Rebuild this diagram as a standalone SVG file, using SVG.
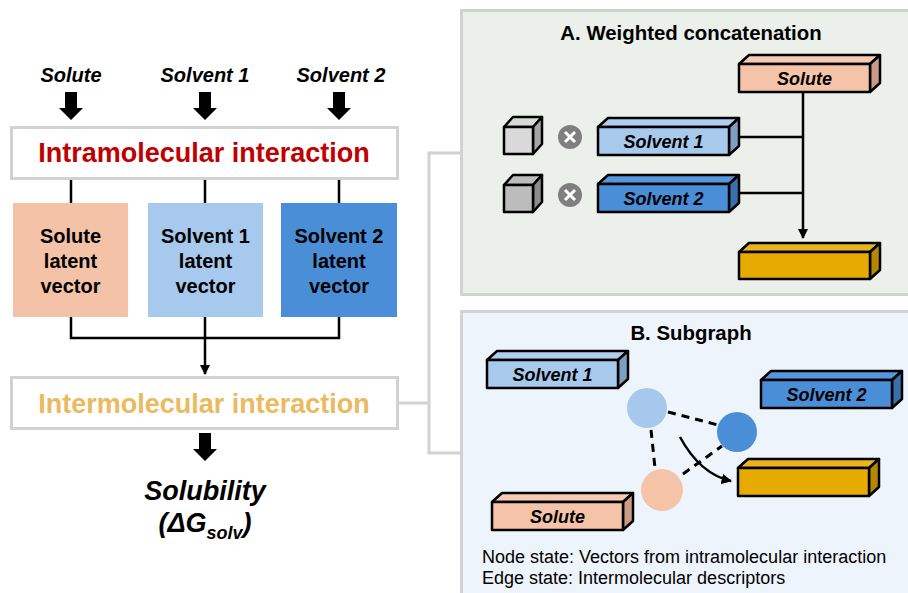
<svg xmlns="http://www.w3.org/2000/svg" width="908" height="593" viewBox="0 0 908 593">
<defs>
<style>
text{font-family:"Liberation Sans",Arial,sans-serif;fill:#000}
.b{font-weight:bold}
.bi{font-weight:bold;font-style:italic}
.ol{stroke:#000;stroke-width:2.5;stroke-linejoin:round}
.gray{fill:none;stroke:#d2d2d2;stroke-width:3}
.ln{fill:none;stroke:#000;stroke-width:2.5}
.dash{fill:none;stroke:#000;stroke-width:3;stroke-dasharray:8 6}
.pf{fill:#f5c4a8}.pt{fill:#f7cbb3}.ps{fill:#c99a86}
.lf{fill:#a7c9ec}.lt{fill:#b0cfef}.ls{fill:#7d9fc2}
.df{fill:#4a8ed8}.dt{fill:#5596dc}.ds{fill:#3870ad}
.gf{fill:#e5ab00}.gt{fill:#eab51c}.gs{fill:#b48700}
.c1f{fill:#d9d9d9}.c1s{fill:#a6a6a6}
.c2f{fill:#bcbcbc}.c2s{fill:#8c8c8c}
</style>
<marker id="ah" viewBox="0 0 10 10" refX="9" refY="5" markerWidth="4.2" markerHeight="4.2" orient="auto" markerUnits="strokeWidth">
<path d="M0,0 L10,5 L0,10 z" fill="#000"/>
</marker>
<polygon id="fat" points="-6,0 6,0 6,16 12,16 0,28 -12,16 -6,16" fill="#000"/>
</defs>
<rect width="908" height="593" fill="#fff"/>

<!-- Panels (backgrounds) -->
<g id="panelA">
<rect x="461.5" y="10.5" width="460" height="284" fill="#ebf1ea" stroke="#d2d2d2" stroke-width="3"/>
<text class="b" x="691" y="40" font-size="20.4" text-anchor="middle">A. Weighted concatenation</text>
</g>
<g id="panelB">
<rect x="461.5" y="311.5" width="460" height="300" fill="#eef4fb" stroke="#d2d2d2" stroke-width="3"/>
<text class="b" x="691" y="340" font-size="20.4" text-anchor="middle">B. Subgraph</text>
</g>

<g id="connectors">
<path class="ln" d="M71,179V203M205,179V203M339,179V203"/>
<path class="ln" d="M71,317V338H339V317M205,317V338"/>
<path class="ln" d="M205,338V374" stroke-width="2" marker-end="url(#ah)"/>
<path class="gray" d="M398,403H429M460,153H429V453H460"/>
<path class="ln" d="M738,137H803M738,193H803M803,92V238" marker-end="url(#ah)"/>
<path class="dash" d="M668,412L718,425M651,430L655,468M683,474L722,446"/>
<path class="ln" d="M680,437Q700,474 731,481" marker-end="url(#ah)"/>
</g>

<!-- Left flow -->
<g id="inputs">
<text class="bi" x="71" y="82" font-size="20" text-anchor="middle">Solute</text>
<text class="bi" x="205" y="82" font-size="20" text-anchor="middle">Solvent 1</text>
<text class="bi" x="341" y="82" font-size="20" text-anchor="middle">Solvent 2</text>
<use href="#fat" x="71" y="92"/>
<use href="#fat" x="205" y="92"/>
<use href="#fat" x="339" y="92"/>
</g>

<g id="intra">
<rect x="11.5" y="127.5" width="386" height="51" fill="#fff" stroke="#d2d2d2" stroke-width="3"/>
<text class="b" x="204" y="162" font-size="27" text-anchor="middle" style="fill:#c00000">Intramolecular interaction</text>
</g>

<g id="latent-solute">
<rect x="13" y="203" width="115" height="114" fill="#f4c2a6"/>
<text class="b" font-size="20" text-anchor="middle"><tspan x="70.5" y="243">Solute</tspan><tspan x="70.5" y="268">latent</tspan><tspan x="70.5" y="293">vector</tspan></text>
</g>
<g id="latent-solvent1">
<rect x="148" y="203" width="115" height="114" fill="#a6c9ed"/>
<text class="b" font-size="20" text-anchor="middle"><tspan x="205.5" y="243">Solvent 1</tspan><tspan x="205.5" y="268">latent</tspan><tspan x="205.5" y="293">vector</tspan></text>
</g>
<g id="latent-solvent2">
<rect x="281" y="203" width="116" height="114" fill="#4a8ed8"/>
<text class="b" font-size="20" text-anchor="middle"><tspan x="339" y="243">Solvent 2</tspan><tspan x="339" y="268">latent</tspan><tspan x="339" y="293">vector</tspan></text>
</g>

<g id="inter">
<rect x="11.5" y="377.5" width="386" height="51" fill="#fff" stroke="#d2d2d2" stroke-width="3"/>
<text class="b" x="204" y="413" font-size="27" text-anchor="middle" style="fill:#ebb95e">Intermolecular interaction</text>
</g>

<g id="output">
<use href="#fat" x="205" y="433"/>
<text class="bi" x="205" y="500" font-size="27" text-anchor="middle">Solubility</text>
<text class="bi" x="205" y="532" font-size="27" text-anchor="middle">(ΔG<tspan font-size="18" dy="7">solv</tspan><tspan dy="-7">)</tspan></text>
</g>

<!-- Panel A nodes -->
<g id="A-solute" transform="translate(739,64)">
<polygon class="pt ol" points="0,0 10,-9 141,-9 131,0"/>
<polygon class="ps ol" points="131,0 141,-9 141,19 131,28"/>
<rect class="pf ol" width="131" height="28"/>
<text class="bi" x="65.5" y="21" font-size="18" text-anchor="middle">Solute</text>
</g>
<g id="A-weight1" transform="translate(504,127)">
<polygon class="c1f ol" points="0,0 9,-10 38,-10 29,0"/>
<polygon class="c1s ol" points="29,0 38,-10 38,17 29,27"/>
<rect class="c1f ol" width="29" height="27"/>
</g>
<g id="A-weight2" transform="translate(504,185)">
<polygon class="c2f ol" points="0,0 9,-10 38,-10 29,0"/>
<polygon class="c2s ol" points="29,0 38,-10 38,17 29,27"/>
<rect class="c2f ol" width="29" height="27"/>
</g>
<g id="A-times1">
<circle cx="570" cy="137" r="12" fill="#7f7f7f"/>
<path d="M565,132L575,142M575,132L565,142" stroke="#fff" stroke-width="3"/>
</g>
<g id="A-times2">
<circle cx="570" cy="195" r="12" fill="#7f7f7f"/>
<path d="M565,190L575,200M575,190L565,200" stroke="#fff" stroke-width="3"/>
</g>
<g id="A-solvent1" transform="translate(598,127)">
<polygon class="lt ol" points="0,0 10,-9 141,-9 131,0"/>
<polygon class="ls ol" points="131,0 141,-9 141,19 131,28"/>
<rect class="lf ol" width="131" height="28"/>
<text class="bi" x="65.5" y="21" font-size="18" text-anchor="middle">Solvent 1</text>
</g>
<g id="A-solvent2" transform="translate(598,184)">
<polygon class="dt ol" points="0,0 10,-9 141,-9 131,0"/>
<polygon class="ds ol" points="131,0 141,-9 141,19 131,28"/>
<rect class="df ol" width="131" height="28"/>
<text class="bi" x="65.5" y="21" font-size="18" text-anchor="middle">Solvent 2</text>
</g>
<g id="A-result" transform="translate(739,252)">
<polygon class="gt ol" points="0,0 10,-9 141,-9 131,0"/>
<polygon class="gs ol" points="131,0 141,-9 141,18 131,27"/>
<rect class="gf ol" width="131" height="27"/>
</g>

<!-- Panel B nodes -->
<g id="B-solvent1" transform="translate(487,360)">
<polygon class="lt ol" points="0,0 10,-9 141,-9 131,0"/>
<polygon class="ls ol" points="131,0 141,-9 141,19 131,28"/>
<rect class="lf ol" width="131" height="28"/>
<text class="bi" x="65.5" y="21" font-size="18" text-anchor="middle">Solvent 1</text>
</g>
<g id="B-solvent2" transform="translate(761,380)">
<polygon class="dt ol" points="0,0 10,-9 141,-9 131,0"/>
<polygon class="ds ol" points="131,0 141,-9 141,19 131,28"/>
<rect class="df ol" width="131" height="28"/>
<text class="bi" x="65.5" y="21" font-size="18" text-anchor="middle">Solvent 2</text>
</g>
<g id="B-result" transform="translate(738,468)">
<polygon class="gt ol" points="0,0 10,-9 141,-9 131,0"/>
<polygon class="gs ol" points="131,0 141,-9 141,19 131,28"/>
<rect class="gf ol" width="131" height="28"/>
</g>
<g id="B-solute" transform="translate(492,502)">
<polygon class="pt ol" points="0,0 10,-9 141,-9 131,0"/>
<polygon class="ps ol" points="131,0 141,-9 141,19 131,28"/>
<rect class="pf ol" width="131" height="28"/>
<text class="bi" x="65.5" y="21" font-size="18" text-anchor="middle">Solute</text>
</g>
<g id="B-node-solvent1"><circle cx="647" cy="408" r="20" fill="#a5c8ec"/></g>
<g id="B-node-solvent2"><circle cx="737" cy="432" r="20" fill="#4a8ed8"/></g>
<g id="B-node-solute"><circle cx="662" cy="490" r="21" fill="#f5c4a8"/></g>
<g id="B-legend">
<text x="482" y="563" font-size="18">Node state: Vectors from intramolecular interaction</text>
<text x="482" y="584" font-size="18">Edge state: Intermolecular descriptors</text>
</g>
</svg>
